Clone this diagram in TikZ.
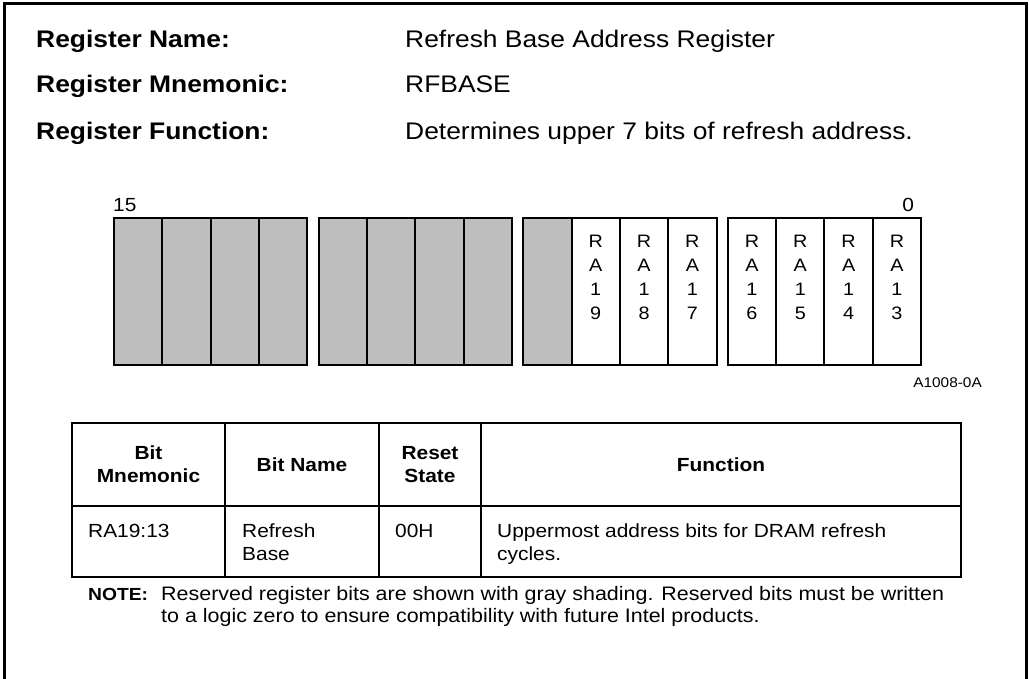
\documentclass[tikz,border=0pt]{standalone}
\usepackage{fontspec}
\setmainfont{Liberation Sans}[FakeStretch=1.1]
\usepackage{xcolor}
\usetikzlibrary{positioning}
\definecolor{resgray}{RGB}{190,190,190}
\newcommand{\fsz}[2]{\fontsize{#1}{#2}\selectfont}

\begin{document}
\begin{tikzpicture}[x=1pt, y=-1pt,
    hdr/.style={anchor=base west, inner sep=0pt, font=\bfseries\fsz{24}{28}},
    hval/.style={anchor=base west, inner sep=0pt, font=\fsz{24}{28}},
    resbit/.style={draw, line width=2pt, fill=resgray, anchor=north west,
        minimum width=48.33pt, minimum height=147pt, inner sep=0pt},
    usebit/.style={resbit, fill=white},
    bitlbl/.style={anchor=north, inner sep=0pt, align=center, font=\fsz{18}{24}},
    thd/.style={align=center, inner sep=0pt, font=\bfseries\fsz{19}{23}},
    tcell/.style={anchor=base west, inner sep=0pt, align=left, font=\fsz{19}{23}}]
    \useasboundingbox (0,0) rectangle (1029,679);

    % Frame (open at the bottom)
    \draw[line width=3pt] (4,679) -- (4,4) -- (1026,4) -- (1026,679);

    % Register header
    \node[hdr] (lname) at (36,48) {Register Name:};
    \node[hdr] (lmnem) at (36,93) {Register Mnemonic:};
    \node[hdr] (lfunc) at (36,140) {Register Function:};
    \node[hval] (vname) at (405,48) {Refresh Base Address Register};
    \node[hval] (vmnem) at (405,93) {RFBASE};
    \node[hval] (vfunc) at (405,140) {Determines upper 7 bits of refresh address.};

    % Bit cells
    \foreach \b in {15,...,7} {
        \pgfmathtruncatemacro{\k}{15-\b}
        \pgfmathsetmacro{\xl}{113+int(\k/4)*204.6+mod(\k,4)*48.33}
        \node[resbit] (bit\b) at (\xl,217) {};
    }
    \foreach \b/\n in {6/9,5/8,4/7,3/6,2/5,1/4,0/3} {
        \pgfmathtruncatemacro{\k}{15-\b}
        \pgfmathsetmacro{\xl}{113+int(\k/4)*204.6+mod(\k,4)*48.33}
        \node[usebit] (bit\b) at (\xl,217) {};
        \node[bitlbl] (lbl\b) at ([yshift=-18pt]bit\b.north) {R\\A\\1\\\n};
    }
    \node[anchor=base west, inner sep=0pt, font=\fsz{19}{22}] (msb) at ([yshift=5pt]bit15.north west) {15};
    \node[anchor=base east, inner sep=0pt, font=\fsz{19}{22}] (lsb) at ([xshift=-8pt,yshift=5pt]bit0.north east) {0};
    \node[anchor=base east, inner sep=0pt, font=\fsz{14}{16}] (fig) at (982,387) {A1008-0A};

    % Table
    \draw[line width=2pt] (72,423) rectangle (961,577);
    \draw[line width=2pt] (72,506) -- (961,506);
    \foreach \x in {225,379,481}
        \draw[line width=2pt] (\x,423) -- (\x,577);
    \node[thd] (hmnem) at (148.5,464.5) {Bit\\Mnemonic};
    \node[thd] (hname) at (302,464.5) {Bit Name};
    \node[thd] (hreset) at (430,464.5) {Reset\\State};
    \node[thd] (hfunc) at (721,464.5) {Function};
    % multi-line cells sit on the baseline of their last line
    \node[tcell] (rmnem) at (88,537) {RA19:13};
    \node[tcell] (rname) at (242,560) {Refresh\\Base};
    \node[tcell] (rreset) at (395,537) {00H};
    \node[tcell] (rfunc) at (497,560) {Uppermost address bits for DRAM refresh\\cycles.};

    % Note
    \node[anchor=base west, inner sep=0pt, font=\bfseries\fsz{17.5}{22}] (note) at (88,600) {NOTE:};
    \node[tcell, font=\fsz{19.5}{22}] (notetxt) at (161,622) {Reserved register bits are shown with gray shading. Reserved bits must be written\\to a logic zero to ensure compatibility with future Intel products.};
\end{tikzpicture}
\end{document}
